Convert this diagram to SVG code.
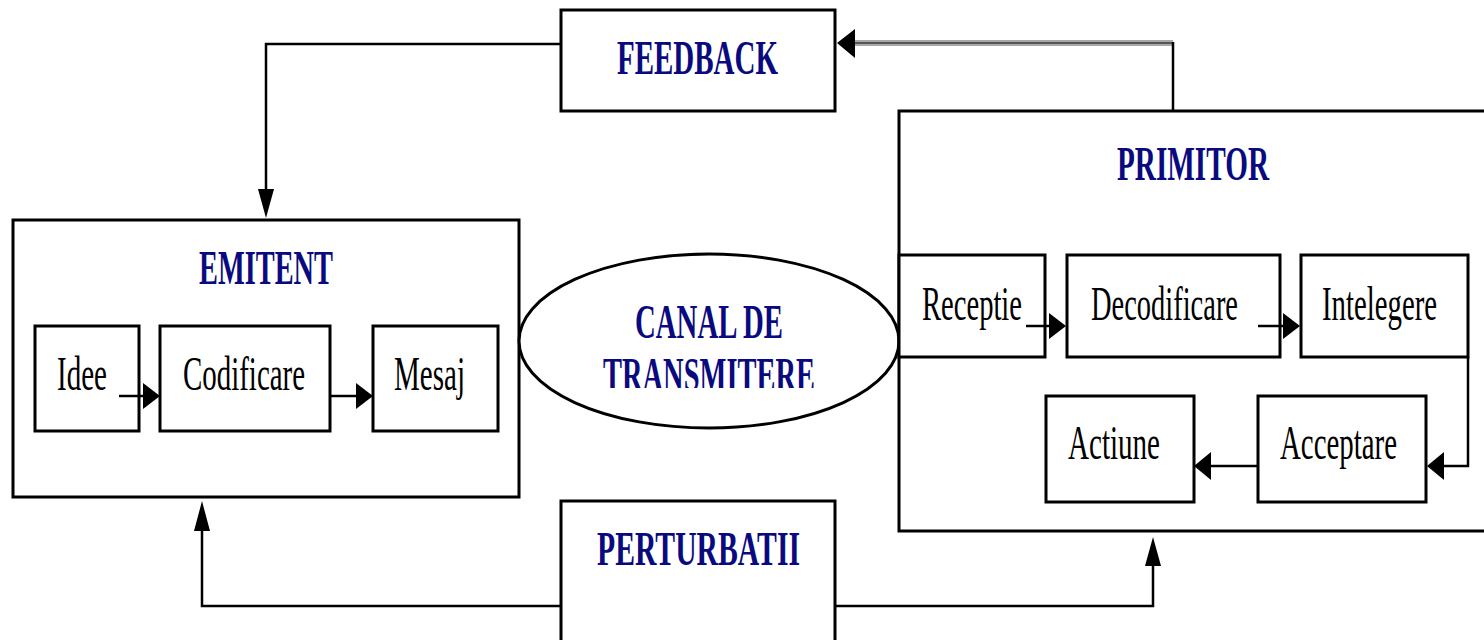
<svg xmlns="http://www.w3.org/2000/svg" width="1484" height="640" viewBox="0 0 1484 640">
<style>
.box{fill:#fff;stroke:#000;stroke-width:3}
.ln{fill:none;stroke:#000;stroke-width:2.5}
.ah{fill:#000;stroke:none}
.title{font-family:"Liberation Serif","Times New Roman",serif;font-weight:bold;font-size:48px;fill:#0a0a80}
.lbl{font-family:"Liberation Serif","Times New Roman",serif;font-size:48px;fill:#000}
</style>
<defs>
<clipPath id="clipCanal"><rect x="500" y="250" width="420" height="138"/></clipPath>
</defs>
<rect width="1484" height="640" fill="#fff"/>

<g id="feedback">
  <rect class="box" x="561" y="10" width="274" height="101"/>
  <text class="title" x="617" y="74" textLength="161" lengthAdjust="spacingAndGlyphs">FEEDBACK</text>
</g>

<g id="emitent">
  <rect class="box" x="13" y="220" width="506" height="277"/>
  <text class="title" x="199" y="284" textLength="134" lengthAdjust="spacingAndGlyphs">EMITENT</text>
</g>
<g id="idee">
  <rect class="box" x="35" y="326" width="104" height="105"/>
  <text class="lbl" x="57" y="390" textLength="50" lengthAdjust="spacingAndGlyphs">Idee</text>
</g>
<g id="codificare">
  <rect class="box" x="160" y="326" width="170" height="105"/>
  <text class="lbl" x="183" y="390" textLength="122" lengthAdjust="spacingAndGlyphs">Codificare</text>
</g>
<g id="mesaj">
  <rect class="box" x="373" y="326" width="125" height="105"/>
  <text class="lbl" x="394" y="390" textLength="71" lengthAdjust="spacingAndGlyphs">Mesaj</text>
</g>

<g id="canal">
  <ellipse cx="709" cy="341" rx="190" ry="87" fill="#fff" stroke="#000" stroke-width="3"/>
  <text class="title" x="635" y="338" textLength="148" lengthAdjust="spacingAndGlyphs">CANAL DE</text>
  <text class="title" x="603" y="391" textLength="212" lengthAdjust="spacingAndGlyphs" clip-path="url(#clipCanal)">TRANSMITERE</text>
</g>

<g id="primitor">
  <rect class="box" x="899" y="111" width="600" height="420"/>
  <text class="title" x="1117" y="180" textLength="152" lengthAdjust="spacingAndGlyphs">PRIMITOR</text>
</g>
<g id="receptie">
  <rect class="box" x="899" y="255" width="146" height="102"/>
  <text class="lbl" x="922" y="320" textLength="100" lengthAdjust="spacingAndGlyphs">Receptie</text>
</g>
<g id="decodificare">
  <rect class="box" x="1067" y="255" width="213" height="102"/>
  <text class="lbl" x="1091" y="320" textLength="147" lengthAdjust="spacingAndGlyphs">Decodificare</text>
</g>
<g id="intelegere">
  <rect class="box" x="1301" y="255" width="167" height="102"/>
  <text class="lbl" x="1322" y="320" textLength="115" lengthAdjust="spacingAndGlyphs">Intelegere</text>
</g>
<g id="acceptare">
  <rect class="box" x="1258" y="396" width="168" height="106"/>
  <text class="lbl" x="1280" y="459" textLength="117" lengthAdjust="spacingAndGlyphs">Acceptare</text>
</g>
<g id="actiune">
  <rect class="box" x="1046" y="396" width="148" height="106"/>
  <text class="lbl" x="1068" y="459" textLength="92" lengthAdjust="spacingAndGlyphs">Actiune</text>
</g>

<g id="perturbatii">
  <rect class="box" x="561" y="501" width="274" height="150"/>
  <text class="title" x="597" y="565" textLength="203" lengthAdjust="spacingAndGlyphs">PERTURBATII</text>
</g>

<g id="connectors">
  <!-- FEEDBACK -> EMITENT -->
  <path class="ln" d="M561,44 H266 V200"/>
  <polygon class="ah" points="258,189 274,189 266,218"/>
  <!-- PRIMITOR -> FEEDBACK -->
  <path d="M1173,43 H850" fill="none" stroke="#a8a8a8" stroke-width="6"/>
  <path d="M1173,43 H850" fill="none" stroke="#555" stroke-width="2"/>
  <path class="ln" d="M1173,111 V42"/>
  <polygon class="ah" points="837,43 855,29 855,58"/>
  <!-- PERTURBATII -> EMITENT -->
  <path class="ln" d="M561,606 H202 V520"/>
  <polygon class="ah" points="194,531 210,531 202,501"/>
  <!-- PERTURBATII -> PRIMITOR -->
  <path class="ln" d="M835,606 H1153 V555"/>
  <polygon class="ah" points="1145,566 1161,566 1153,537"/>
  <!-- Idee -> Codificare -->
  <path class="ln" d="M119,396 H146"/>
  <polygon class="ah" points="160,396 143,383 143,409"/>
  <!-- Codificare -> Mesaj -->
  <path class="ln" d="M330,396 H359"/>
  <polygon class="ah" points="373,396 356,383 356,409"/>
  <!-- Receptie -> Decodificare -->
  <path class="ln" d="M1026,326 H1052"/>
  <polygon class="ah" points="1066,326 1049,313 1049,339"/>
  <!-- Decodificare -> Intelegere -->
  <path class="ln" d="M1258,326 H1286"/>
  <polygon class="ah" points="1300,326 1283,313 1283,339"/>
  <!-- Intelegere -> Acceptare -->
  <path class="ln" d="M1468,357 V466 H1442"/>
  <polygon class="ah" points="1427,466 1444,452 1444,480"/>
  <!-- Acceptare -> Actiune -->
  <path class="ln" d="M1258,466 H1208"/>
  <polygon class="ah" points="1194,466 1211,452 1211,480"/>
</g>
</svg>
